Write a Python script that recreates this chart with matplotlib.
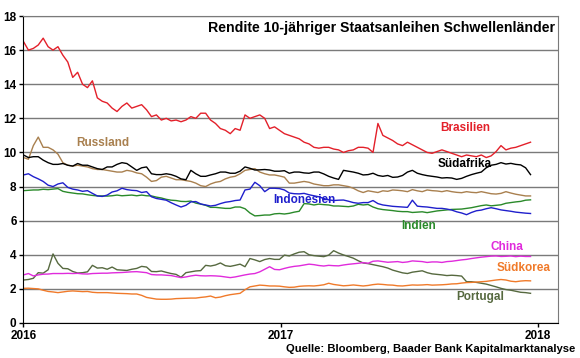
import matplotlib
matplotlib.use("Agg")
import matplotlib.pyplot as plt
import matplotlib.dates as mdates
import pandas as pd

plt.rcParams['font.family'] = ['Liberation Sans', 'DejaVu Sans']
plt.rcParams['font.weight'] = 'bold'

# weekly yields, first week of 2016 to late Dec 2017
dates = pd.date_range('2016-01-01', periods=104, freq='7D')

brasilien = [16.5, 16.0, 16.1, 16.3, 16.7, 16.2, 16.0, 16.2, 15.7, 15.3,
             14.4, 14.7, 14.0, 13.8, 14.2, 13.2, 13.0, 12.9, 12.6, 12.4,
             12.7, 12.9, 12.6, 12.7, 12.8, 12.5, 12.1, 12.2, 11.9, 12.0,
             11.85, 11.9, 11.8, 11.9, 12.1, 12.0, 12.3, 12.3, 11.9, 11.7,
             11.4, 11.3, 11.1, 11.4, 11.3, 12.2, 12.0, 12.1, 12.2, 12.0,
             11.4, 11.5, 11.3, 11.1, 11.0, 10.9, 10.8, 10.6, 10.5, 10.3,
             10.25, 10.3, 10.3, 10.2, 10.15, 10.0, 10.1, 10.15, 10.3, 10.3,
             10.25, 10.0, 11.7, 11.0, 10.85, 10.7, 10.5, 10.4, 10.6, 10.45,
             10.3, 10.15, 10.0, 9.95, 10.05, 10.15, 10.05, 9.95, 9.85, 9.75,
             9.85, 9.8, 9.75, 9.85, 9.7, 9.8, 10.05, 10.4, 10.15, 10.25,
             10.3, 10.4, 10.5, 10.6]

russland = [9.7, 9.6, 10.4, 10.9, 10.3, 10.3, 10.15, 9.9, 9.4, 9.25,
            9.2, 9.25, 9.2, 9.15, 9.05, 9.0, 9.0, 8.95, 8.9, 8.85,
            8.85, 8.95, 8.9, 8.8, 8.75, 8.55, 8.3, 8.35, 8.55, 8.6,
            8.5, 8.4, 8.4, 8.35, 8.3, 8.2, 8.05, 8.0, 8.15, 8.25,
            8.3, 8.45, 8.55, 8.6, 8.75, 8.95, 9.0, 9.05, 8.85, 8.75,
            8.68, 8.68, 8.62, 8.55, 8.2, 8.2, 8.25, 8.3, 8.25, 8.15,
            8.1, 8.05, 8.05, 8.1, 8.1, 8.05, 8.0, 7.9, 7.75, 7.65,
            7.75, 7.7, 7.65, 7.75, 7.72, 7.8, 7.78, 7.75, 7.7, 7.82,
            7.75, 7.7, 7.8, 7.76, 7.74, 7.7, 7.76, 7.7, 7.66, 7.64,
            7.7, 7.66, 7.64, 7.7, 7.64, 7.58, 7.56, 7.6, 7.7, 7.62,
            7.55, 7.5, 7.45, 7.45]

suedafrika = [9.85, 9.7, 9.75, 9.75, 9.55, 9.4, 9.3, 9.3, 9.35, 9.25,
              9.2, 9.35, 9.25, 9.25, 9.15, 9.05, 9.0, 9.15, 9.15, 9.3,
              9.4, 9.35, 9.15, 8.95, 9.1, 9.15, 8.75, 8.7, 8.7, 8.75,
              8.7, 8.6, 8.45, 8.4, 8.95, 8.75, 8.6, 8.6, 8.68, 8.75,
              8.85, 8.85, 8.78, 8.78, 8.9, 9.15, 9.07, 8.97, 8.98, 9.0,
              8.97, 8.9, 8.9, 8.93, 8.78, 8.85, 8.85, 8.8, 8.78, 8.85,
              8.85, 8.74, 8.6, 8.5, 8.42, 8.95, 8.9, 8.85, 8.78, 8.68,
              8.7, 8.78, 8.65, 8.6, 8.65, 8.54, 8.56, 8.65, 8.85, 8.95,
              8.78, 8.7, 8.64, 8.6, 8.56, 8.5, 8.52, 8.5, 8.42, 8.48,
              8.6, 8.7, 8.78, 8.85, 9.1, 9.25, 9.3, 9.4, 9.32, 9.36,
              9.3, 9.27, 9.1, 8.7]

indonesien = [8.68, 8.75, 8.58, 8.45, 8.3, 8.08, 8.0, 8.15, 8.22, 7.95,
              7.85, 7.8, 7.72, 7.76, 7.6, 7.45, 7.42, 7.5, 7.68, 7.75,
              7.9, 7.82, 7.78, 7.76, 7.65, 7.7, 7.4, 7.3, 7.25, 7.2,
              7.05, 6.92, 6.8, 6.9, 7.1, 7.12, 6.98, 6.92, 6.86, 6.9,
              7.0, 7.08, 7.12, 7.18, 7.21, 7.8, 7.85, 8.25, 8.05, 7.7,
              7.9, 7.9, 7.88, 7.8, 7.62, 7.58, 7.57, 7.6, 7.52, 7.46,
              7.4, 7.3, 7.22, 7.18, 7.2, 7.21, 7.14, 7.06, 7.02, 7.06,
              7.06, 7.18, 7.0, 6.92, 6.88, 6.84, 6.82, 6.8, 6.78, 7.2,
              6.85, 6.82, 6.8, 6.76, 6.72, 6.72, 6.68, 6.62, 6.52, 6.45,
              6.35, 6.48, 6.58, 6.62, 6.7, 6.76, 6.7, 6.63, 6.59, 6.55,
              6.5, 6.47, 6.44, 6.42]

indien = [7.76, 7.78, 7.8, 7.8, 7.84, 7.82, 7.85, 7.88, 7.72, 7.66,
          7.62, 7.58, 7.57, 7.52, 7.48, 7.45, 7.45, 7.44, 7.46, 7.5,
          7.46, 7.48, 7.5, 7.46, 7.5, 7.46, 7.45, 7.38, 7.33, 7.25,
          7.2, 7.18, 7.13, 7.12, 7.15, 7.03, 6.97, 6.9, 6.78, 6.78,
          6.75, 6.72, 6.72, 6.8, 6.8, 6.7, 6.45, 6.28, 6.3, 6.33,
          6.33, 6.4, 6.42, 6.39, 6.43, 6.5, 6.55, 7.0, 6.98, 6.92,
          6.97, 6.94, 6.92, 6.86, 6.86, 6.84, 6.82, 6.86, 6.96, 6.92,
          6.95, 6.8, 6.7, 6.65, 6.62, 6.59, 6.55, 6.53, 6.53, 6.48,
          6.5, 6.52, 6.47, 6.52, 6.57, 6.6, 6.63, 6.66, 6.67, 6.68,
          6.72, 6.76, 6.82, 6.88, 6.92, 6.87, 6.9, 6.93, 7.02, 7.06,
          7.1, 7.13, 7.2, 7.22]

china = [2.82, 2.9, 2.76, 2.82, 2.86, 2.87, 2.9, 2.9, 2.9, 2.91,
         2.9, 2.91, 2.88, 2.87, 2.9, 2.91, 2.92, 2.92, 2.94, 2.95,
         2.96, 2.98, 3.0, 3.01, 2.98, 2.95, 2.84, 2.82, 2.82, 2.8,
         2.78, 2.72, 2.66, 2.7, 2.76, 2.8, 2.77, 2.76, 2.77, 2.76,
         2.74, 2.7, 2.66, 2.7, 2.76, 2.82, 2.87, 2.9, 3.0, 3.15,
         3.3, 3.14, 3.12, 3.2, 3.27, 3.32, 3.35, 3.4, 3.45, 3.42,
         3.37, 3.34, 3.38, 3.36, 3.35, 3.4, 3.44, 3.47, 3.5, 3.54,
         3.5, 3.62, 3.64, 3.6, 3.56, 3.58, 3.6, 3.55, 3.58, 3.64,
         3.62, 3.6, 3.55, 3.58, 3.58, 3.55, 3.6, 3.62, 3.66, 3.7,
         3.73, 3.78, 3.82, 3.86, 3.89, 3.92, 3.93, 3.9, 3.91, 3.93,
         3.89, 3.92, 3.9, 3.9]

suedkorea = [2.03, 2.04, 2.02, 2.0, 1.92, 1.85, 1.82, 1.78, 1.82, 1.86,
             1.88, 1.86, 1.84, 1.85, 1.8, 1.78, 1.78, 1.78, 1.76, 1.74,
             1.73, 1.72, 1.7, 1.7, 1.62, 1.5, 1.45, 1.4, 1.39, 1.39,
             1.4, 1.43, 1.44, 1.45, 1.46, 1.46, 1.5, 1.53, 1.58, 1.48,
             1.52, 1.6, 1.66, 1.7, 1.74, 1.95, 2.12, 2.17, 2.22, 2.2,
             2.17, 2.17, 2.16, 2.12, 2.09, 2.1, 2.15, 2.17, 2.18, 2.17,
             2.2, 2.24, 2.33, 2.26, 2.22, 2.18, 2.2, 2.23, 2.2, 2.17,
             2.2, 2.25, 2.28, 2.26, 2.23, 2.22, 2.18, 2.17, 2.2, 2.23,
             2.22, 2.23, 2.25, 2.22, 2.23, 2.24, 2.26, 2.29, 2.3, 2.34,
             2.37, 2.38, 2.4, 2.42, 2.44, 2.48, 2.52, 2.55, 2.52, 2.45,
             2.42, 2.46, 2.48, 2.47]

portugal = [2.52, 2.55, 2.62, 2.95, 2.92, 3.12, 4.05, 3.5, 3.2, 3.18,
            3.02, 2.93, 2.95, 3.0, 3.38, 3.22, 3.24, 3.15, 3.28, 3.12,
            3.1, 3.08, 3.15, 3.2, 3.32, 3.28, 3.02, 3.01, 3.05, 2.97,
            2.9, 2.85, 2.68, 2.95, 3.0, 3.05, 3.07, 3.38, 3.34, 3.4,
            3.52, 3.36, 3.32, 3.38, 3.45, 3.3, 3.78, 3.7, 3.6, 3.72,
            3.78, 3.73, 3.73, 3.98, 3.93, 4.05, 4.15, 4.18, 4.0, 3.95,
            3.92, 3.89, 3.98, 4.24, 4.1, 3.99, 3.9, 3.8, 3.65, 3.52,
            3.48, 3.42, 3.36, 3.3, 3.22, 3.1, 3.02, 2.94, 2.9, 2.98,
            3.02, 3.06, 2.95, 2.88, 2.85, 2.82, 2.78, 2.8, 2.78, 2.75,
            2.42, 2.42, 2.38, 2.33, 2.28, 2.2, 2.12, 2.03, 1.96, 1.92,
            1.86, 1.8, 1.78, 1.74]

names = ['Portugal', 'Südkorea', 'China', 'Indien', 'Indonesien',
         'Russland', 'Südafrika', 'Brasilien']
series = [portugal, suedkorea, china, indien, indonesien,
          russland, suedafrika, brasilien]
colors = ['#56693F', '#F07A2A', '#E02BDC', '#2A8A2A', '#1F1FCC',
          '#A9804F', '#000000', '#E3202A']

# label anchors (date, value) for the inline series names
label_pos = {
    'Brasilien': ('2017-09-20', 11.45),
    'Südafrika': ('2017-09-20', 9.35),
    'Russland': ('2016-04-23', 10.55),
    'Indonesien': ('2017-02-03', 7.2),
    'Indien': ('2017-07-16', 5.7),
    'China': ('2017-11-18', 4.45),
    'Südkorea': ('2017-12-12', 3.25),
    'Portugal': ('2017-10-12', 1.5),
}

fig = plt.figure(figsize=(5.8, 3.58), dpi=100)
ax = fig.add_axes([0.0405, 0.0978, 0.9215, 0.8575])

for name, vals, col in zip(names, series, colors):
    ax.plot(dates, vals, color=col, lw=1.0)
    d, v = label_pos[name]
    ax.text(pd.Timestamp(d), v, name, color=col, fontsize=8.5,
            fontweight='bold', ha='center', va='center')

ax.set_ylim(0, 18)
ax.set_yticks(range(0, 19, 2))
ax.set_xlim(pd.Timestamp('2016-01-01'), pd.Timestamp('2018-01-30'))
ax.set_xticks([pd.Timestamp('2016-01-01'), pd.Timestamp('2017-01-01'),
               pd.Timestamp('2018-01-01')])
ax.xaxis.set_major_formatter(mdates.DateFormatter('%Y'))

ax.yaxis.grid(True, color='#7a7a7a', lw=1.0)
ax.set_axisbelow(True)
ax.spines['left'].set_color('black')
ax.spines['bottom'].set_color('black')
ax.spines['right'].set_color('#7a7a7a')
ax.spines['top'].set_color('#7a7a7a')
ax.tick_params(axis='both', labelsize=8.5, length=3, width=1, pad=2)
for lbl in ax.get_xticklabels() + ax.get_yticklabels():
    lbl.set_fontweight('bold')

fig.text(0.957, 0.922, 'Rendite 10-jähriger Staatsanleihen Schwellenländer',
         ha='right', va='center', fontsize=10.2, fontweight='bold')
fig.text(0.991, 0.026, 'Quelle: Bloomberg, Baader Bank Kapitalmarktanalyse',
         ha='right', va='center', fontsize=8.1, fontweight='bold')

fig.savefig('out.png', dpi=100)
